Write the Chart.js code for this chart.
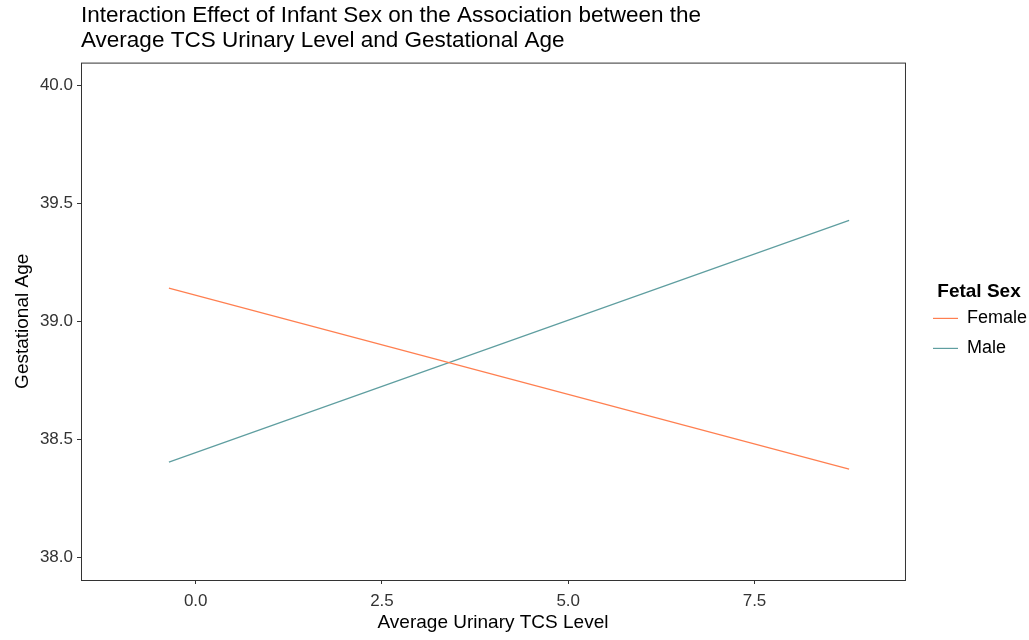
<!DOCTYPE html>
<html>
<head>
<meta charset="utf-8">
<script src="https://cdn.jsdelivr.net/npm/chart.js@4/dist/chart.umd.min.js"></script>
<style>
  html, body { margin: 0; padding: 0; background: #fff; }
  #wrap { width: 1029px; height: 640px; }
</style>
</head>
<body>
<div id="wrap"><canvas id="chart" width="1029" height="640"></canvas></div>
<script>
// fitted lines (ends of each segment)
const tcsLevel = [-0.36, 8.77];
const femaleAge = [39.141, 38.373];
const maleAge = [38.403, 39.428];

const xTicks = [0, 2.5, 5, 7.5];
const yTicks = [38.0, 38.5, 39.0, 39.5, 40.0];

const FONT = "'Liberation Sans', Arial, sans-serif";

// black frame round the panel, like ggplot's panel.border
const panelBorder = {
  id: "panelBorder",
  afterDraw(chart) {
    const { ctx, chartArea: a } = chart;
    ctx.save();
    ctx.strokeStyle = "#333333";
    ctx.lineWidth = 1;
    ctx.strokeRect(a.left + 0.5, a.top + 0.5, a.right - a.left, a.bottom - a.top);
    ctx.restore();
  },
};

const ctx = document.getElementById("chart").getContext("2d");

new Chart(ctx, {
  type: "line",
  data: {
    datasets: [
      {
        label: "Female",
        data: tcsLevel.map((x, i) => ({ x: x, y: femaleAge[i] })),
        borderColor: "#FF7F50",
        backgroundColor: "#FF7F50",
        borderWidth: 1.2,
        pointRadius: 0,
        tension: 0,
      },
      {
        label: "Male",
        data: tcsLevel.map((x, i) => ({ x: x, y: maleAge[i] })),
        borderColor: "#5F9EA0",
        backgroundColor: "#5F9EA0",
        borderWidth: 1.2,
        pointRadius: 0,
        tension: 0,
      },
    ],
  },
  options: {
    responsive: false,
    animation: false,
    layout: { padding: { left: 0, right: -8, top: 0, bottom: 0 } },
    plugins: {
      title: {
        display: true,
        fullSize: false,
        align: "start",
        text: [
          "Interaction Effect of Infant Sex on the Association between the",
          "Average TCS Urinary Level and Gestational Age",
        ],
        color: "#000",
        font: { family: FONT, size: 22.5, weight: "normal", lineHeight: 1.08 },
        padding: { top: 4, bottom: 10 },
      },
      legend: {
        position: "right",
        align: "center",
        title: {
          display: true,
          text: "Fetal Sex",
          color: "#000",
          font: { family: FONT, size: 19, weight: "bold" },
          padding: { top: 12, bottom: -8 },
        },
        labels: {
          usePointStyle: true,
          pointStyle: "line",
          pointStyleWidth: 25,
          color: "#000",
          font: { family: FONT, size: 18 },
          padding: 12,
        },
      },
      tooltip: { enabled: false },
    },
    scales: {
      x: {
        type: "linear",
        min: -1.54,
        max: 9.52,
        afterFit: (s) => { s.height = 60; },
        afterBuildTicks: (s) => { s.ticks = xTicks.map((v) => ({ value: v })); },
        border: { display: false },
        grid: { drawOnChartArea: false, drawTicks: true, tickLength: 4, color: "#333333" },
        ticks: {
          color: "#333333",
          font: { family: FONT, size: 17 },
          padding: 7,
          maxRotation: 0,
          callback: (v) => v.toFixed(1),
        },
        title: {
          display: true,
          text: "Average Urinary TCS Level",
          color: "#000",
          font: { family: FONT, size: 19 },
          padding: { top: 0, bottom: 6 },
        },
      },
      y: {
        type: "linear",
        min: 37.903,
        max: 40.097,
        afterFit: (s) => { s.width = 81; },
        afterBuildTicks: (s) => { s.ticks = yTicks.map((v) => ({ value: v })); },
        border: { display: false },
        grid: { drawOnChartArea: false, drawTicks: true, tickLength: 4, color: "#333333" },
        ticks: {
          color: "#333333",
          font: { family: FONT, size: 17 },
          padding: 4,
          callback: (v) => v.toFixed(1),
        },
        title: {
          display: true,
          text: "Gestational Age",
          color: "#000",
          font: { family: FONT, size: 19 },
          padding: { top: 11, bottom: 0 },
        },
      },
      // empty spacer between the panel and the legend
      gap: {
        type: "linear",
        position: "right",
        display: true,
        afterFit: (s) => { s.width = 16; },
        grid: { display: false },
        border: { display: false },
        ticks: { display: false },
      },
    },
  },
  plugins: [panelBorder],
});
</script>
</body>
</html>
